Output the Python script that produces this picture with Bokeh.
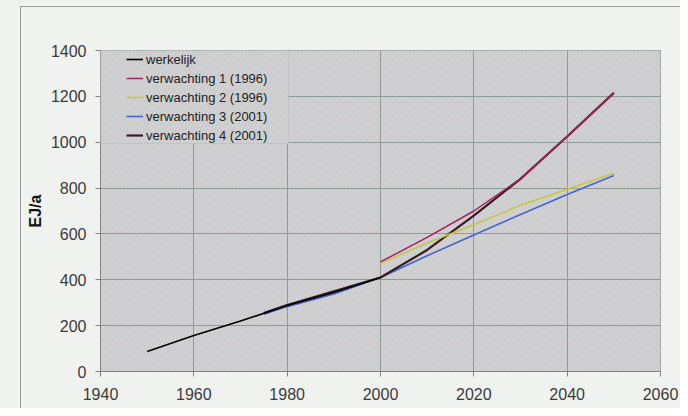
from bokeh.plotting import figure
from bokeh.models import BoxAnnotation, Legend, LegendItem, FixedTicker, Range1d
from bokeh.embed import file_html
from bokeh.resources import INLINE

# ---- data ----
x_ticks = [1940, 1960, 1980, 2000, 2020, 2040, 2060]
y_ticks = [0, 200, 400, 600, 800, 1000, 1200, 1400]

jaren_werkelijk = [1950, 1960, 1970, 1980, 1990, 2000]
werkelijk = [87, 157, 220, 288, 345, 410]

jaren_1996 = [2000, 2010, 2020, 2030, 2040, 2050]
verwachting_1 = [478, 585, 700, 840, 1025, 1215]
verwachting_2 = [472, 560, 640, 725, 795, 865]

jaren_2001 = [1975, 1980, 1990, 2000, 2010, 2020, 2030, 2040, 2050]
verwachting_3 = [250, 283, 338, 410, 505, 595, 685, 772, 855]
verwachting_4 = [255, 290, 350, 410, 530, 680, 840, 1025, 1215]

labels = ["werkelijk", "verwachting 1 (1996)", "verwachting 2 (1996)",
          "verwachting 3 (2001)", "verwachting 4 (2001)"]
colors = ["#000000", "#a8205e", "#c4c840", "#4466cc", "#3a1a24"]
y_label = "EJ/a"

FONT = "Liberation Sans"
FRAME_W, FRAME_H = 560, 321
BASE = "#c2dccf"
STRIPE = "#dcbfd1"

p = figure(width=680, height=408, frame_width=FRAME_W, frame_height=FRAME_H,
           output_backend="svg", toolbar_location=None,
           x_range=Range1d(x_ticks[0], x_ticks[-1]),
           y_range=Range1d(y_ticks[0], y_ticks[-1]),
           min_border_left=100, min_border_right=20,
           min_border_top=50, min_border_bottom=37)

p.border_fill_alpha = 0
p.styles = {
    "background-color": "#f0f2f0",
    "background-image": "linear-gradient(#9a9a9a,#9a9a9a), linear-gradient(#9a9a9a,#9a9a9a)",
    "background-size": "1px 100%, 100% 1px",
    "background-position": "20px 6px, 20px 6px",
    "background-repeat": "no-repeat",
}
p.background_fill_color = BASE
p.outline_line_color = "#8f9a95"

# hatched plot background (below the grid)
bg = BoxAnnotation(level="image", fill_color=BASE, fill_alpha=1.0,
                   line_color=None, hatch_pattern="/", hatch_color=STRIPE,
                   hatch_scale=7, hatch_weight=1.5, hatch_alpha=1.0)
p.add_layout(bg)

# axes
for ax in (p.xaxis[0], p.yaxis[0]):
    ax.axis_line_color = "#808080"
    ax.major_tick_line_color = "#808080"
    ax.major_tick_out = 5
    ax.major_tick_in = 0
    ax.minor_tick_line_color = None
    ax.major_label_text_font = FONT
    ax.major_label_text_font_size = "16px"
    ax.major_label_text_color = "#3a3a3a"

p.xaxis.ticker = FixedTicker(ticks=x_ticks)
p.yaxis.ticker = FixedTicker(ticks=y_ticks)
p.xaxis.major_label_standoff = 11
p.yaxis.major_label_standoff = 9
p.yaxis.axis_label = y_label
p.yaxis.axis_label_text_font = FONT
p.yaxis.axis_label_text_font_style = "bold"
p.yaxis.axis_label_text_font_size = "16px"
p.yaxis.axis_label_text_color = "#111111"
p.yaxis.axis_label_standoff = 4

p.xgrid.ticker = FixedTicker(ticks=x_ticks)
p.ygrid.ticker = FixedTicker(ticks=y_ticks)
for g in (p.xgrid[0], p.ygrid[0]):
    g.grid_line_color = "#8f9a95"
    g.grid_line_width = 1

# lines (draw order chosen to match overlaps)
r3 = p.line(jaren_2001, verwachting_3, line_color=colors[3], line_width=1.6)
r4 = p.line(jaren_2001, verwachting_4, line_color=colors[4], line_width=2.2)
r2 = p.line(jaren_1996, verwachting_2, line_color=colors[2], line_width=1.6)
r1 = p.line(jaren_1996, verwachting_1, line_color=colors[1], line_width=1.5)
r0 = p.line(jaren_werkelijk, werkelijk, line_color=colors[0], line_width=1.6)
renderers = [r0, r1, r2, r3, r4]

# legend box (hatched, hides grid lines)
LEG_W, LEG_H = 188, 93
legbox = BoxAnnotation(left=0, right=LEG_W, top=FRAME_H, bottom=FRAME_H - LEG_H,
                       left_units="screen", right_units="screen",
                       top_units="screen", bottom_units="screen",
                       fill_color=BASE, fill_alpha=1.0,
                       hatch_pattern="/", hatch_color=STRIPE,
                       hatch_scale=7, hatch_weight=1.5, hatch_alpha=1.0,
                       line_color="#a3aca8", line_width=1)
p.add_layout(legbox)

legend = Legend(items=[LegendItem(label=l, renderers=[r]) for l, r in zip(labels, renderers)],
                location=(26, FRAME_H - 94))
legend.padding = 0
legend.margin = 0
legend.spacing = 1
legend.border_line_color = None
legend.background_fill_alpha = 0
legend.glyph_width = 17
legend.glyph_height = 18
legend.label_height = 18
legend.label_standoff = 3
legend.label_text_font = FONT
legend.label_text_font_size = "13px"
legend.label_text_color = "#222222"
p.add_layout(legend)

open("out.html", "w").write(file_html(p, INLINE))
